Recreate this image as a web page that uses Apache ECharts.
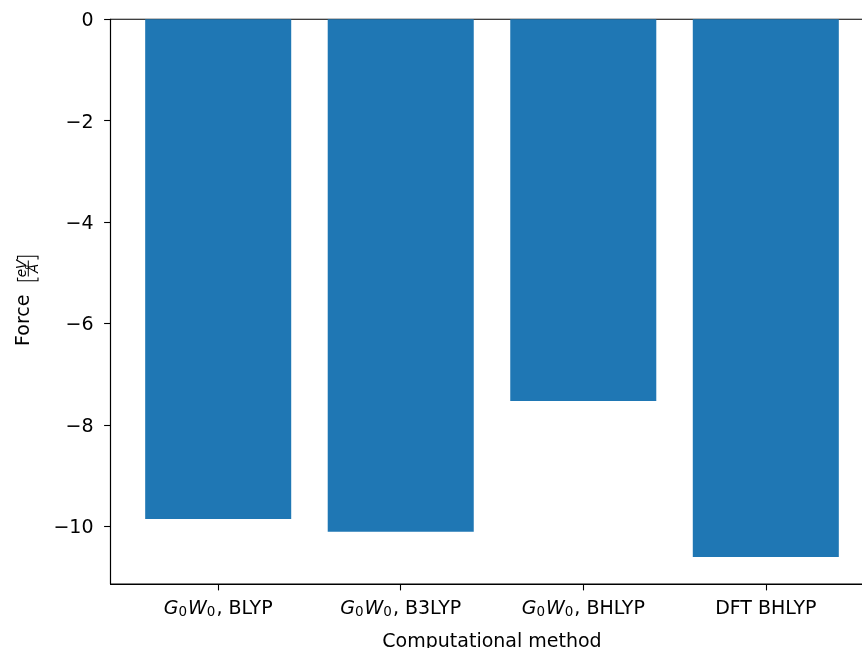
<!DOCTYPE html>
<html>
<head>
<meta charset="utf-8">
<script src="https://cdn.jsdelivr.net/npm/echarts@6/dist/echarts.min.js"></script>
<style>
  html, body { margin: 0; padding: 0; background: #fff; }
  #chart { width: 862px; height: 648px; }
</style>
</head>
<body>
<div id="chart"></div>
<script>
// Methods compared and the force each one yields (eV/Å)
const methods = ['G0W0, BLYP', 'G0W0, B3LYP', 'G0W0, BHLYP', 'DFT BHLYP'];
const forces = [-9.86, -10.11, -7.53, -10.61];
const yTicks = [0, -2, -4, -6, -8, -10];

const FONT = 'DejaVu Sans';
const FS = 19;
const BAR_W = 0.8;

// x extent: bars of width 0.8 plus a 5 % margin on each side
const xLo = -BAR_W / 2, xHi = methods.length - 1 + BAR_W / 2;
const xPad = 0.05 * (xHi - xLo);
// y extent: bars start at zero, 5 % margin below the lowest bar
const yMin = Math.min(...forces);
const yLo = yMin + 0.05 * yMin;

const barData = forces.map((v, i) => [i, v]);

// Method names: "G0W0" is set as italic G and W with subscript zeros
function methodLabel(val) {
  const name = methods[Math.round(val)];
  if (name === undefined) return '';
  if (name.startsWith('G0W0')) {
    return '{it|G}{sub|0}{it|W}{sub|0}{rm|' + name.slice(4) + '}';
  }
  return '{rm|' + name + '}';
}

const chart = echarts.init(document.getElementById('chart'), null, { renderer: 'canvas' });

const option = {
  animation: false,
  backgroundColor: '#ffffff',
  textStyle: { fontFamily: FONT },
  grid: {
    left: 110.5, top: 19.3, height: 564.7, width: 763,
    outerBoundsMode: 'none',
    containLabel: false,
    show: true, borderColor: '#000', borderWidth: 1.1, backgroundColor: 'transparent'
  },
  xAxis: {
    type: 'value',
    min: xLo - xPad,
    max: xHi + xPad,
    splitLine: { show: false },
    axisLine: { show: true, onZero: false, lineStyle: { color: '#000', width: 1.1 } },
    axisTick: {
      show: true, length: 6.4, lineStyle: { color: '#000', width: 1.1 },
      customValues: methods.map((m, i) => i)
    },
    axisLabel: {
      customValues: methods.map((m, i) => i),
      margin: 14,
      formatter: methodLabel,
      rich: {
        it: { fontFamily: FONT, fontSize: FS, fontStyle: 'italic', color: '#000', lineHeight: 22 },
        sub: { fontFamily: FONT, fontSize: 13.5, color: '#000', padding: [6, 1, 0, 0] },
        rm: { fontFamily: FONT, fontSize: FS, color: '#000', lineHeight: 22 }
      }
    },
    name: 'Computational method',
    nameLocation: 'middle',
    nameGap: 49,
    nameTextStyle: { fontFamily: FONT, fontSize: FS, color: '#000' }
  },
  yAxis: {
    type: 'value',
    min: yLo,
    max: 0,
    splitLine: { show: false },
    axisLine: { show: true, onZero: false, lineStyle: { color: '#000', width: 1.1 } },
    axisTick: {
      show: true, length: 6.4, lineStyle: { color: '#000', width: 1.1 },
      customValues: yTicks
    },
    axisLabel: {
      customValues: yTicks,
      margin: 17,
      formatter: v => '{n|' + String(v).replace('-', '\u2212') + '}',
      rich: {
        n: { fontFamily: FONT, fontSize: FS, color: '#000', padding: [4, 0, 0, 0] }
      }
    }
  },
  series: [{
    type: 'custom',
    data: barData,
    clip: false,
    renderItem: function (params, api) {
      const x = api.value(0), v = api.value(1);
      const p0 = api.coord([x - BAR_W / 2, 0]);
      const p1 = api.coord([x + BAR_W / 2, v]);
      return {
        type: 'rect',
        shape: { x: p0[0], y: p0[1], width: p1[0] - p0[0], height: p1[1] - p0[1] },
        style: { fill: '#1f77b4' }
      };
    }
  }],
  graphic: [{
    // y-axis title: "Force [eV/Å]", rotated to read bottom-to-top
    type: 'group',
    x: 27, y: 300,
    rotation: Math.PI / 2,
    children: [
      { type: 'text', x: -46, y: -3.2,
        style: { text: 'Force', fontFamily: FONT, fontSize: FS, fill: '#000',
                 align: 'left', verticalAlign: 'middle' } },
      // left bracket
      { type: 'polyline', shape: { points: [[22.5, -9.5], [19.3, -9.5], [19.3, 11], [22.5, 11]] },
        style: { stroke: '#000', lineWidth: 1.1, fill: null } },
      // right bracket
      { type: 'polyline', shape: { points: [[40.5, -9.5], [43.7, -9.5], [43.7, 11], [40.5, 11]] },
        style: { stroke: '#000', lineWidth: 1.1, fill: null } },
      // fraction
      { type: 'text', x: 31.5, y: -4.2,
        style: { text: 'eV', fontFamily: FONT, fontSize: 13.5, fontStyle: 'italic', fill: '#000',
                 align: 'center', verticalAlign: 'middle' } },
      { type: 'line', shape: { x1: 23.5, y1: 1.3, x2: 39.5, y2: 1.3 },
        style: { stroke: '#000', lineWidth: 1 } },
      { type: 'text', x: 31.5, y: 7.6,
        style: { text: 'Å', fontFamily: FONT, fontSize: 13.5, fontStyle: 'italic', fill: '#000',
                 align: 'center', verticalAlign: 'middle' } }
    ]
  }]
};

chart.setOption(option);
</script>
</body>
</html>
